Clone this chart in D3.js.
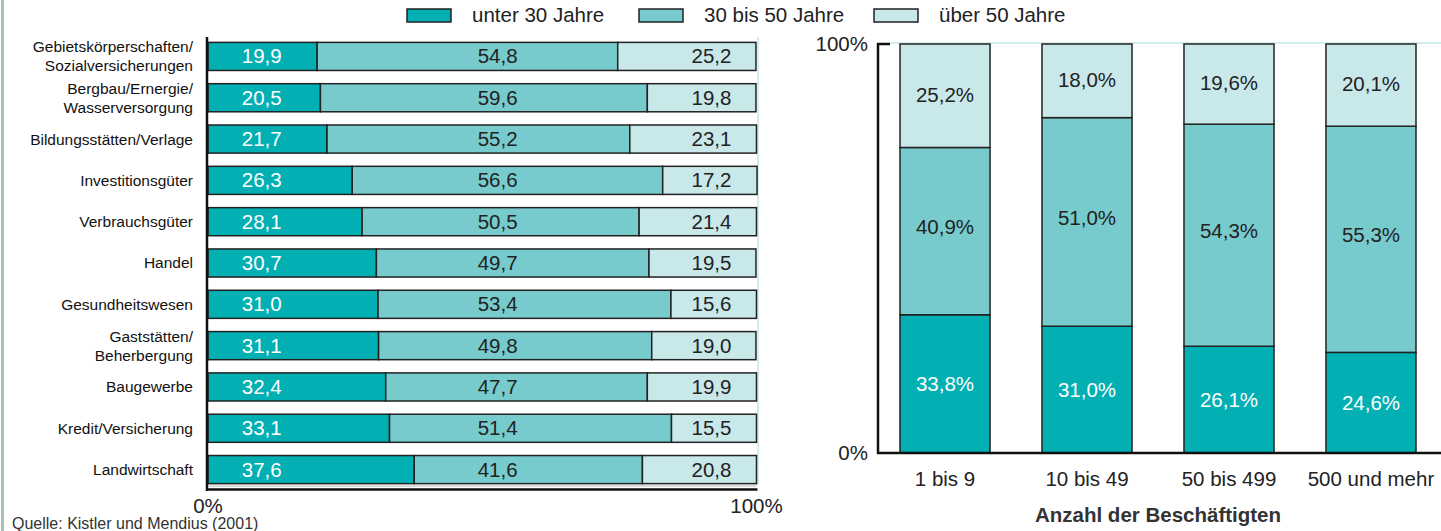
<!DOCTYPE html>
<html>
<head>
<meta charset="utf-8">
<script src="https://cdn.jsdelivr.net/npm/d3@7"></script>
<style>
  body { margin: 0; background: #fff; }
  text { font-family: "Liberation Sans", Arial, sans-serif; }
</style>
</head>
<body>
<svg id="chart" width="1441" height="531"></svg>
<script>
// Data
var series = ["unter 30 Jahre", "30 bis 50 Jahre", "über 50 Jahre"];
var branchen = [
  "Gebietskörperschaften/\nSozialversicherungen",
  "Bergbau/Ernergie/\nWasserversorgung",
  "Bildungsstätten/Verlage",
  "Investitionsgüter",
  "Verbrauchsgüter",
  "Handel",
  "Gesundheitswesen",
  "Gaststätten/\nBeherbergung",
  "Baugewerbe",
  "Kredit/Versicherung",
  "Landwirtschaft"
];
var unter30 = [19.9, 20.5, 21.7, 26.3, 28.1, 30.7, 31.0, 31.1, 32.4, 33.1, 37.6];
var mitte   = [54.8, 59.6, 55.2, 56.6, 50.5, 49.7, 53.4, 49.8, 47.7, 51.4, 41.6];
var ueber50 = [25.2, 19.8, 23.1, 17.2, 21.4, 19.5, 15.6, 19.0, 19.9, 15.5, 20.8];

var groessen = ["1 bis 9", "10 bis 49", "50 bis 499", "500 und mehr"];
var gUnter30 = [33.8, 31.0, 26.1, 24.6];
var gMitte   = [40.9, 51.0, 54.3, 55.3];
var gUeber50 = [25.2, 18.0, 19.6, 20.1];

var colors = ["#02afb3", "#77cbcd", "#c9e8ea"];
var textColors = ["#ffffff", "#222222", "#222222"];
var fmt = function(v) { return d3.format(".1f")(v).replace(".", ","); };

var svg = d3.select("#chart");

// left frame line
svg.append("rect").attr("x", 1).attr("y", 0).attr("width", 3).attr("height", 531)
  .attr("fill", "#a9c2b6");

// Legend
var legendX = [407, 639, 874];
var legend = svg.selectAll(".legend").data(series).enter().append("g")
  .attr("transform", function(d, i) { return "translate(" + legendX[i] + ",9)"; });
legend.append("rect").attr("width", 44).attr("height", 13)
  .attr("fill", function(d, i) { return colors[i]; })
  .attr("stroke", "#222").attr("stroke-width", 1.5);
legend.append("text").attr("x", 65).attr("y", 13).attr("font-size", 20.5)
  .attr("fill", "#222").text(function(d) { return d; });

// ---- left chart: horizontal stacked bars
var x = d3.scaleLinear().domain([0, 100]).range([208, 756.5]);
var y = d3.scaleBand().domain(branchen).range([37, 489]).paddingInner(0.32).paddingOuter(0.13);

var rows = branchen.map(function(b, i) { return {name: b, vals: [unter30[i], mitte[i], ueber50[i]]}; });
var labelPos = [9.8, 52.8, 91.8];

// 100% guide
svg.append("line").attr("x1", x(100) + 1.5).attr("x2", x(100) + 1.5).attr("y1", 37).attr("y2", 485)
  .attr("stroke", "#d3ecee").attr("stroke-width", 2);

var row = svg.selectAll(".row").data(rows).enter().append("g")
  .attr("transform", function(d) { return "translate(0," + y(d.name) + ")"; });

row.each(function(d) {
  var g = d3.select(this), cum = 0;
  d.vals.forEach(function(v, k) {
    g.append("rect").attr("x", x(cum)).attr("y", 0)
      .attr("width", x(cum + v) - x(cum)).attr("height", y.bandwidth())
      .attr("fill", colors[k]).attr("stroke", "#222").attr("stroke-width", 1.5);
    cum += v;
    g.append("text").attr("x", x(labelPos[k])).attr("y", y.bandwidth() / 2 + 7)
      .attr("text-anchor", "middle").attr("font-size", 20.5)
      .attr("fill", textColors[k]).text(fmt(v));
  });
  var lines = d.name.split("\n");
  g.append("text").attr("text-anchor", "end").attr("font-size", 15.5).attr("fill", "#111")
    .selectAll("tspan").data(lines).enter().append("tspan")
    .attr("x", 193)
    .attr("y", function(t, i) { return y.bandwidth() / 2 + 5.5 + (i - (lines.length - 1) / 2) * 19; })
    .text(function(t) { return t; });
});

// left axes
svg.append("line").attr("x1", 207).attr("x2", 207).attr("y1", 37).attr("y2", 491)
  .attr("stroke", "#111").attr("stroke-width", 2.5);
svg.append("line").attr("x1", 208).attr("x2", x(100)).attr("y1", 486).attr("y2", 486)
  .attr("stroke", "#bbb").attr("stroke-width", 1);
svg.append("line").attr("x1", 206).attr("x2", x(100) + 1).attr("y1", 489.5).attr("y2", 489.5)
  .attr("stroke", "#111").attr("stroke-width", 2.5);
svg.selectAll(".xtick").data([0, 100]).enter().append("text")
  .attr("x", function(d) { return x(d); }).attr("y", 513)
  .attr("text-anchor", "middle").attr("font-size", 20.5).attr("fill", "#222")
  .text(function(d) { return d + "%"; });

svg.append("text").attr("x", 12).attr("y", 529).attr("font-size", 16).attr("fill", "#333")
  .text("Quelle: Kistler und Mendius (2001)");

// ---- right chart: vertical stacked bars
var x2 = d3.scaleBand().domain(groessen).range([878, 1438]).paddingInner(0.366).paddingOuter(0.155);
var y2 = d3.scaleLinear().domain([0, 100]).range([453, 44]);
var labelShift = [7, 3, 6];

svg.append("line").attr("x1", 890).attr("x2", 1441).attr("y1", y2(100) - 1).attr("y2", y2(100) - 1)
  .attr("stroke", "#d3ecee").attr("stroke-width", 2);

var cols = groessen.map(function(g, i) { return {name: g, vals: [gUnter30[i], gMitte[i], gUeber50[i]]}; });
var col = svg.selectAll(".col").data(cols).enter().append("g")
  .attr("transform", function(d) { return "translate(" + x2(d.name) + ",0)"; });

col.each(function(d) {
  var g = d3.select(this), cum = 0;
  d.vals.forEach(function(v, k) {
    var top = k === 2 ? 100 : cum + v;
    g.append("rect").attr("x", 0).attr("y", y2(top))
      .attr("width", x2.bandwidth()).attr("height", y2(cum) - y2(top))
      .attr("fill", colors[k]).attr("stroke", "#222").attr("stroke-width", 1.5);
    g.append("text").attr("x", x2.bandwidth() / 2).attr("y", (y2(cum) + y2(top)) / 2 + labelShift[k])
      .attr("text-anchor", "middle").attr("font-size", 20.5)
      .attr("fill", textColors[k]).text(fmt(v) + "%");
    cum += v;
  });
});

// right axes
svg.append("line").attr("x1", 878).attr("x2", 878).attr("y1", 43).attr("y2", 454)
  .attr("stroke", "#111").attr("stroke-width", 2.5);
svg.append("line").attr("x1", 877).attr("x2", 890).attr("y1", 44).attr("y2", 44)
  .attr("stroke", "#111").attr("stroke-width", 2.5);
svg.append("line").attr("x1", 877).attr("x2", 1441).attr("y1", 453).attr("y2", 453)
  .attr("stroke", "#111").attr("stroke-width", 2.5);
svg.selectAll(".ytick").data([0, 100]).enter().append("text")
  .attr("x", 868).attr("y", function(d) { return y2(d) + 7; })
  .attr("text-anchor", "end").attr("font-size", 20.5).attr("fill", "#222")
  .text(function(d) { return d + "%"; });
svg.selectAll(".cat").data(groessen).enter().append("text")
  .attr("x", function(d) { return x2(d) + x2.bandwidth() / 2; }).attr("y", 486)
  .attr("text-anchor", "middle").attr("font-size", 20.5).attr("fill", "#222")
  .text(function(d) { return d; });
svg.append("text").attr("x", 1158).attr("y", 522).attr("text-anchor", "middle")
  .attr("font-size", 20.5).attr("font-weight", "bold").attr("fill", "#333")
  .text("Anzahl der Beschäftigten");
</script>
</body>
</html>
